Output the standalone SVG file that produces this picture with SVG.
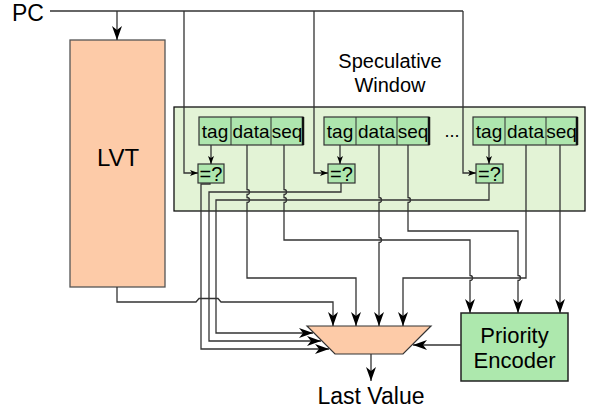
<svg xmlns="http://www.w3.org/2000/svg" width="597" height="414" viewBox="0 0 597 414">
<style>
.t{font-family:"Liberation Sans",Arial,sans-serif;fill:#000;text-anchor:middle}
.c{fill:#aee6ae;stroke:#333;stroke-width:1.2}
.w{fill:none;stroke:#333;stroke-width:1.3}
</style>
<defs>
<marker id="ah" viewBox="0 0 14 10" refX="14" refY="5" markerWidth="14" markerHeight="10" markerUnits="userSpaceOnUse" orient="auto"><path d="M0,0 L14,5 L0,10 L4,5 z" fill="#000"/></marker>
<marker id="as" viewBox="0 0 8 6" refX="8" refY="3" markerWidth="8" markerHeight="6" markerUnits="userSpaceOnUse" orient="auto"><path d="M0,0 L8,3 L0,6 L2,3 z" fill="#000"/></marker>
</defs>
<rect width="597" height="414" fill="#fff"/>
<g id="pc"><text class="t" x="28" y="21" font-size="23">PC</text></g>
<g id="lvt"><rect x="70" y="40" width="95" height="247" fill="#fdcba8" stroke="#555" stroke-width="1.3"/><text class="t" x="118" y="166" font-size="24">LVT</text></g>
<g id="window"><rect x="174" y="107" width="411" height="104" fill="#e3f3d6" stroke="#111" stroke-width="1.3"/><text class="t" x="390" y="68" font-size="20">Speculative</text><text class="t" x="390" y="92" font-size="20">Window</text></g>
<g id="entry1"><rect class="c" x="199" y="117" width="104" height="28"/><line x1="231" y1="117" x2="231" y2="145" stroke="#333"/><line x1="271" y1="117" x2="271" y2="145" stroke="#333"/><line x1="303" y1="117" x2="303" y2="145" stroke="#111" stroke-width="2.5"/><text class="t" x="215" y="138" font-size="19">tag</text><text class="t" x="251" y="138" font-size="19">data</text><text class="t" x="287" y="138" font-size="19">seq</text></g>
<g id="entry2"><rect class="c" x="324" y="117" width="105" height="28"/><line x1="356" y1="117" x2="356" y2="145" stroke="#333"/><line x1="397" y1="117" x2="397" y2="145" stroke="#333"/><line x1="429" y1="117" x2="429" y2="145" stroke="#111" stroke-width="2.5"/><text class="t" x="340" y="138" font-size="19">tag</text><text class="t" x="376.5" y="138" font-size="19">data</text><text class="t" x="413" y="138" font-size="19">seq</text></g>
<g id="dots"><text class="t" x="452" y="137" font-size="18">...</text></g>
<g id="entry3"><rect class="c" x="473" y="117" width="104" height="28"/><line x1="505" y1="117" x2="505" y2="145" stroke="#333"/><line x1="546" y1="117" x2="546" y2="145" stroke="#333"/><line x1="577" y1="117" x2="577" y2="145" stroke="#111" stroke-width="2.5"/><text class="t" x="489" y="138" font-size="19">tag</text><text class="t" x="525.5" y="138" font-size="19">data</text><text class="t" x="561.5" y="138" font-size="19">seq</text></g>
<g id="cmp1"><rect class="c" x="198" y="164" width="26" height="19"/><text class="t" x="211" y="181" font-size="20">=?</text></g>
<g id="cmp2"><rect class="c" x="328" y="164" width="27" height="19"/><text class="t" x="341.5" y="181" font-size="20">=?</text></g>
<g id="cmp3"><rect class="c" x="476" y="164" width="27" height="19"/><text class="t" x="489.5" y="181" font-size="20">=?</text></g>
<g id="mux"><path d="M307,326 H431 L403,354 H335 Z" fill="#fdcba8" stroke="#333" stroke-width="1.2"/></g>
<g id="pe"><rect x="461" y="313" width="107" height="68" fill="#ade8ad" stroke="#222" stroke-width="1.5"/><text class="t" x="514.5" y="343" font-size="22">Priority</text><text class="t" x="514.5" y="368" font-size="22">Encoder</text></g>
<g id="lastvalue"><text class="t" x="371" y="404" font-size="23">Last Value</text></g>
<g id="connectors">
<path class="w" d="M50,11 H463"/>
<path class="w" d="M117,11 V40" marker-end="url(#ah)"/>
<path class="w" d="M184,11 V173 H198" marker-end="url(#as)"/>
<path class="w" d="M314,11 V173 H328" marker-end="url(#as)"/>
<path class="w" d="M463,11 V173 H476" marker-end="url(#as)"/>
<path class="w" d="M211,145 V164" marker-end="url(#as)"/>
<path class="w" d="M340,145 V164" marker-end="url(#as)"/>
<path class="w" d="M489,145 V164" marker-end="url(#as)"/>
<path class="w" d="M210,183 V184 H201 V349 H329" marker-end="url(#ah)"/>
<path class="w" d="M341,183 V192 H209 V341 H321" marker-end="url(#ah)"/>
<path class="w" d="M489,183 V200 H216 V333 H313" marker-end="url(#ah)"/>
<path class="w" d="M247,145 V189.5 A2.5,2.5 0 0 1 247,194.5 V197.5 A2.5,2.5 0 0 1 247,202.5 V278 H356 V326" marker-end="url(#ah)"/>
<path class="w" d="M284,145 V189.5 A2.5,2.5 0 0 1 284,194.5 V197.5 A2.5,2.5 0 0 1 284,202.5 V240 H470 V275.5 A2.5,2.5 0 0 1 470,280.5 V313" marker-end="url(#ah)"/>
<path class="w" d="M379,145 V197.5 A2.5,2.5 0 0 1 379,202.5 V237.5 A2.5,2.5 0 0 1 379,242.5 V326" marker-end="url(#ah)"/>
<path class="w" d="M408,145 V197.5 A2.5,2.5 0 0 1 408,202.5 V231 H518 V275.5 A2.5,2.5 0 0 1 518,280.5 V313" marker-end="url(#ah)"/>
<path class="w" d="M526,145 V278 H403 V326" marker-end="url(#ah)"/>
<path class="w" d="M560,145 V313" marker-end="url(#ah)"/>
<path class="w" d="M117,287 V302 H196 L199,298.5 H218 L221,302 H333 V326" marker-end="url(#ah)"/>
<path class="w" d="M461,345 H413" marker-end="url(#ah)"/>
<path class="w" d="M371,354 V381" marker-end="url(#ah)"/>
</g>
</svg>
